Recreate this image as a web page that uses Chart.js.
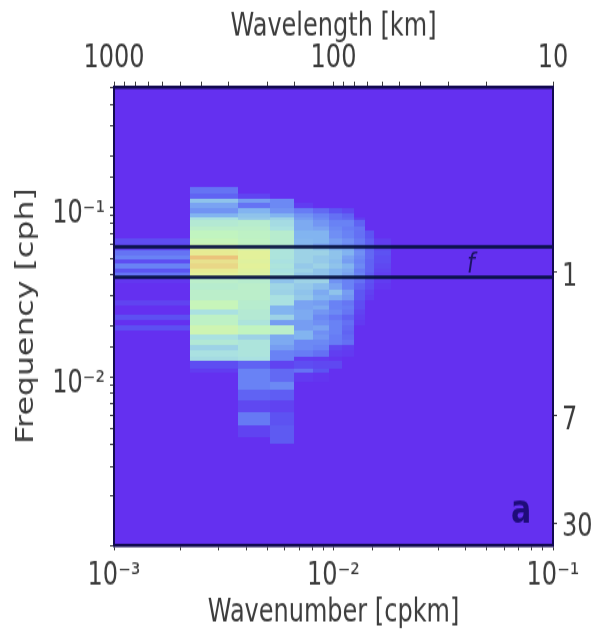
<!DOCTYPE html>
<html>
<head>
<meta charset="utf-8">
<script src="https://cdn.jsdelivr.net/npm/chart.js@4"></script>
<style>
html, body { margin: 0; padding: 0; background: #fff; width: 600px; height: 632px; }
/* the original figure was stretched vertically */
#wrap { width: 600px; height: 480px; transform: scaleY(1.3167); transform-origin: 0 0; }
</style>
</head>
<body>
<div id="wrap"><canvas id="mycanvas" width="600" height="480"></canvas></div>
<script>
// wavenumber bin edges [cpkm]
var kEdges = [0.00076, 0.00222, 0.00368, 0.00514, 0.0066, 0.00806, 0.00952, 0.01098, 0.01244, 0.0139, 0.01536, 0.01828];
// frequency bin edges [cph], top to bottom
var fEdges = [0.1311, 0.1209, 0.1115, 0.1056, 0.0987, 0.0922, 0.0873, 0.0838, 0.0763, 0.0732, 0.0657, 0.0614, 0.0582, 0.0559, 0.0522,
	0.0495, 0.0469, 0.0438, 0.0415, 0.0387, 0.0357, 0.0325, 0.0304, 0.0284, 0.0265, 0.0248, 0.0232, 0.0216, 0.0202, 0.0189,
	0.0177, 0.0165, 0.0154, 0.0144, 0.0131, 0.0124, 0.0113, 0.0107, 0.00935, 0.00838, 0.00732, 0.00622, 0.00522, 0.00444, 0.00409];

// spectral level per wavenumber column, one value per frequency row
var col0 = [0,0,0,0,0,0,0,0,0,0,.12,.1,.08,.25,.3,.12,.3,.15,.25,.03,0,0,0,.08,0,0,.13,0,.13,0,0,0,0,0,0,0,0,0,0,0,0,0,0,0];
var col1 = [.25,.2,.5,.4,.35,.45,.6,.66,.7,.74,.76,.78,.84,.86,.94,.88,.9,.86,.84,.7,.68,.7,.7,.76,.76,.6,.72,.72,.78,.78,.6,.65,.55,.6,.58,.12,.05,0,0,0,0,0,0,0];
var col2 = [0,.08,.38,.25,.45,.5,.52,.68,.7,.72,.73,.74,.8,.84,.84,.83,.84,.83,.82,.68,.7,.7,.7,.68,.68,.66,.66,.62,.74,.74,.55,.62,.62,.62,.6,.2,.3,.3,.3,.2,.1,.27,.08,0];
var col3 = [0,0,.32,.32,.35,.45,.55,.58,.6,.68,.68,.68,.62,.62,.62,.6,.62,.6,.62,.5,.56,.55,.6,.6,.45,.45,.55,.38,.7,.7,.42,.42,.38,.3,.3,.08,.22,.22,.32,.18,.08,.14,.17,.17];
var col4 = [0,0,0,.05,.28,.35,.38,.42,.42,.45,.46,.46,.55,.55,.55,.55,.52,.55,.52,.55,.52,.5,.52,.4,.4,.42,.42,.38,.38,.45,.45,.32,.32,.28,.05,.12,.25,.04,0,0,0,0,0,0];
var col5 = [0,0,0,0,.22,.3,.32,.36,.4,.45,.45,.4,.5,.55,.52,.52,.55,.5,.5,.55,.48,.42,.45,.38,.42,.36,.32,.34,.4,.34,.36,.32,.3,.24,.04,.1,.15,.02,0,0,0,0,0,0];
var col6 = [0,0,0,0,.15,.24,.24,.3,.32,.34,.38,.36,.44,.5,.5,.48,.5,.45,.45,.35,.4,.5,.42,.3,.3,.32,.26,.3,.3,.3,.28,.28,.1,.06,.02,.1,0,0,0,0,0,0,0,0];
var col7 = [0,0,0,0,.1,.2,.22,.3,.28,.3,.34,.32,.42,.45,.4,.38,.45,.42,.4,.3,.3,.38,.36,.26,.28,.26,.2,.24,.22,.2,.22,.24,.06,.04,0,0,0,0,0,0,0,0,0,0];
var col8 = [0,0,0,0,0,0,.05,.2,.25,.24,.27,.26,.3,.34,.32,.3,.32,.28,.3,.24,.2,.16,.16,.12,.12,.08,.06,.04,0,0,0,0,0,0,0,0,0,0,0,0,0,0,0,0];
var col9 = [0,0,0,0,0,0,0,0,0,.15,.18,.18,.2,.22,.22,.2,.2,.2,.18,.14,.12,.07,.05,0,0,0,0,0,0,0,0,0,0,0,0,0,0,0,0,0,0,0,0,0];
var col10 = [0,0,0,0,0,0,0,0,0,0,.05,.06,.1,.14,.12,.12,.1,.08,.06,.05,.03,0,0,0,0,0,0,0,0,0,0,0,0,0,0,0,0,0,0,0,0,0,0,0];

// inertial frequency lines [cph]
var fLines = [0.0582, 0.0387];
var kRange = [0.001, 0.1];
var fRange = [0.00103, 0.508];

// axis ticks
var kTicks = [0.001, 0.01, 0.1];
var kTickLabels = ['10\u207B\u00B3', '10\u207B\u00B2', '10\u207B\u00B9'];
var lambdaTicks = [1000, 100, 10];
var lambdaTickLabels = ['1000', '100', '10'];
var fTicks = [0.1, 0.01];
var fTickLabels = ['10\u207B\u00B9', '10\u207B\u00B2'];
var periodTicks = [1 / 24, 1 / 168, 1 / 720];
var periodTickLabels = ['1', '7', '30'];

var columns = [col0, col1, col2, col3, col4, col5, col6, col7, col8, col9, col10];

var inkColor = '#3c3c3c';
var frameColor = '#120a50';
var baseColor = [100, 48, 240];
var colorStops = [
	[0, baseColor],
	[0.15, [92, 84, 242]],
	[0.3, [105, 130, 245]],
	[0.45, [130, 180, 240]],
	[0.6, [170, 225, 225]],
	[0.75, [195, 245, 190]],
	[0.85, [230, 240, 150]],
	[0.95, [235, 190, 120]],
	[1, [230, 130, 80]]
];

function levelColor(v) {
	for (var i = 1; i < colorStops.length; i++) {
		if (v <= colorStops[i][0]) {
			var a = colorStops[i - 1], b = colorStops[i];
			var t = (v - a[0]) / (b[0] - a[0]);
			var c = [0, 1, 2].map(function (j) { return Math.round(a[1][j] + (b[1][j] - a[1][j]) * t); });
			return 'rgb(' + c.join(',') + ')';
		}
	}
	return 'rgb(230,130,80)';
}

function labelFrom(values, labels) {
	return function (value) {
		for (var i = 0; i < values.length; i++) {
			if (Math.abs(values[i] - value) / values[i] < 1e-6) return labels[i];
		}
		return '';
	};
}

// no matrix chart in core Chart.js, so the cells go through the scales here
var meshPlugin = {
	id: 'mesh',
	beforeDatasetsDraw: function (chart) {
		var ctx = chart.ctx, area = chart.chartArea;
		var xs = chart.scales.x, ys = chart.scales.y;
		// cells go on a side canvas first, blurring each one alone leaves seams
		var side = document.createElement('canvas');
		side.width = chart.width;
		side.height = chart.height;
		var sc = side.getContext('2d');
		sc.fillStyle = levelColor(0);
		sc.fillRect(0, 0, side.width, side.height);
		columns.forEach(function (col, c) {
			var x0 = Math.round(xs.getPixelForValue(kEdges[c]));
			var x1 = Math.round(xs.getPixelForValue(kEdges[c + 1]));
			col.forEach(function (v, r) {
				if (!v) return;
				var y0 = Math.round(ys.getPixelForValue(fEdges[r]));
				var y1 = Math.round(ys.getPixelForValue(fEdges[r + 1]));
				sc.fillStyle = levelColor(v);
				sc.fillRect(x0, y0, x1 - x0, y1 - y0);
			});
		});
		ctx.save();
		ctx.beginPath();
		ctx.rect(area.left, area.top, area.width, area.height);
		ctx.clip();
		ctx.filter = 'blur(0.6px)';
		ctx.drawImage(side, 0, 0);
		ctx.restore();
	},
	afterDatasetsDraw: function (chart) {
		var ctx = chart.ctx;
		var xs = chart.scales.x, ys = chart.scales.y;
		ctx.save();
		ctx.textAlign = 'center';
		ctx.textBaseline = 'middle';
		ctx.fillStyle = '#1c1464';
		ctx.font = 'italic 22px "DejaVu Sans"';
		ctx.fillText('f', xs.getPixelForValue(0.0423), ys.getPixelForValue(0.0455));
		ctx.fillStyle = '#1e0c7a';
		ctx.font = 'bold 30px "DejaVu Sans"';
		ctx.fillText('a', xs.getPixelForValue(0.0715), ys.getPixelForValue(0.0016));
		ctx.restore();
	}
};

Chart.defaults.font.family = '"DejaVu Sans"';
Chart.defaults.color = inkColor;

function axis(extra) {
	var base = {
		type: 'logarithmic',
		grid: { drawOnChartArea: false, tickLength: 4, tickColor: inkColor, tickWidth: 1 },
		ticks: { autoSkip: false, maxRotation: 0, minRotation: 0, padding: 5, font: { size: 24 } }
	};
	Object.keys(extra).forEach(function (key) {
		if (key === 'ticks') Object.assign(base.ticks, extra.ticks);
		else base[key] = extra[key];
	});
	return base;
}

var datasets = fLines.map(function (f) {
	return {
		label: 'f',
		data: [{ x: kRange[0], y: f }, { x: kRange[1], y: f }],
		showLine: true,
		borderColor: '#061040',
		borderWidth: 2.5,
		pointRadius: 0
	};
});

var chart = new Chart(document.getElementById('mycanvas'), {
	type: 'scatter',
	data: { datasets: datasets },
	plugins: [meshPlugin],
	options: {
		responsive: false,
		animation: false,
		layout: { padding: 0 },
		plugins: { legend: { display: false }, tooltip: { enabled: false } },
		scales: {
			x: axis({
				position: 'bottom', min: kRange[0], max: kRange[1],
				border: { color: frameColor, width: 2.5, z: 1 },
				title: { display: true, text: 'Wavenumber [cpkm]', font: { size: 24 }, padding: { top: 0, bottom: 0 } },
				ticks: { callback: labelFrom(kTicks, kTickLabels) },
				afterFit: function (s) { s.height = 66; }
			}),
			x2: axis({
				position: 'top', min: 10, max: 1000, reverse: true,
				border: { color: frameColor, width: 2.5, z: 1 },
				title: { display: true, text: 'Wavelength [km]', font: { size: 24 }, padding: { top: 6, bottom: 0 } },
				ticks: { callback: labelFrom(lambdaTicks, lambdaTickLabels), padding: 3 },
				afterFit: function (s) { s.height = 66; }
			}),
			y: axis({
				position: 'left', min: fRange[0], max: fRange[1],
				border: { color: frameColor, width: 2, z: 1 },
				title: { display: true, text: 'Frequency [cph]', font: { size: 24 }, padding: { top: 12, bottom: 0 } },
				ticks: { callback: labelFrom(fTicks, fTickLabels), labelOffset: 5.7 },
				afterFit: function (s) { s.width = 114; }
			}),
			y2: axis({
				position: 'right', min: fRange[0], max: fRange[1],
				border: { color: frameColor, width: 2, z: 1 },
				afterBuildTicks: function (s) {
					s.ticks = periodTicks.map(function (v) { return { value: v }; });
				},
				ticks: { callback: labelFrom(periodTicks, periodTickLabels), labelOffset: 4 },
				afterFit: function (s) { s.width = 47; }
			})
		}
	}
});
</script>
</body>
</html>
